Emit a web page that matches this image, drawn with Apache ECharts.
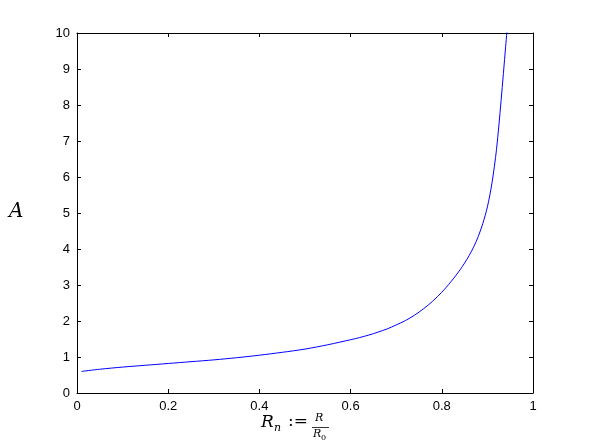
<!DOCTYPE html>
<html>
<head>
<meta charset="utf-8">
<script src="https://cdn.jsdelivr.net/npm/echarts@6/dist/echarts.min.js"></script>
<style>
  html, body { margin: 0; padding: 0; background: #fff; }
  #chart { width: 589px; height: 443px; }
</style>
</head>
<body>
<div id="chart"></div>
<script>
// values (curve runs on past the top of the axes and is clipped there)
var rn = [0.01, 0.05, 0.1, 0.15, 0.2, 0.25, 0.3, 0.35, 0.4, 0.45, 0.5, 0.55, 0.6, 0.62, 0.64, 0.66, 0.68, 0.7, 0.72, 0.74, 0.76, 0.78, 0.8,
  0.81, 0.82, 0.83, 0.84, 0.85, 0.86, 0.87, 0.88, 0.89, 0.9, 0.91, 0.92, 0.93, 0.94, 0.95]
var aVals = [0.60, 0.66, 0.72, 0.77, 0.82, 0.87, 0.92, 0.98, 1.05, 1.13, 1.22, 1.34, 1.48, 1.54, 1.61, 1.69, 1.78, 1.89, 2.01, 2.16, 2.34, 2.55, 2.8,
  2.94, 3.09, 3.25, 3.42, 3.61, 3.82, 4.06, 4.35, 4.71, 5.17, 5.83, 6.77, 8.12, 9.62, 11.12]
var xTicks = [0, 0.2, 0.4, 0.6, 0.8, 1]
var yTicks = [0, 1, 2, 3, 4, 5, 6, 7, 8, 9, 10]

var chart = echarts.init(document.getElementById('chart'))

var tickStyle = { show: true, inside: true, length: 4, lineStyle: { color: '#000', width: 1 } }
var lineStyle = { show: true, onZero: false, lineStyle: { color: '#000', width: 1 } }
var labelStyle = { color: '#000', fontSize: 13, fontFamily: 'Liberation Sans' }

chart.setOption({
  animation: false,
  grid: { left: 77, right: 56, top: 33, bottom: 50 },
  xAxis: [
    {
      type: 'value', min: xTicks[0], max: xTicks[xTicks.length - 1], interval: 0.2, position: 'bottom',
      axisLine: lineStyle, axisTick: tickStyle, splitLine: { show: false },
      axisLabel: Object.assign({ margin: 7, formatter: function(v) { return String(+v.toFixed(1)) } }, labelStyle)
    },
    {
      type: 'value', min: xTicks[0], max: xTicks[xTicks.length - 1], interval: 0.2, position: 'top',
      axisLine: lineStyle, axisTick: tickStyle, splitLine: { show: false },
      axisLabel: { show: false }
    }
  ],
  yAxis: [
    {
      type: 'value', min: yTicks[0], max: yTicks[yTicks.length - 1], interval: 1, position: 'left',
      axisLine: lineStyle, axisTick: tickStyle, splitLine: { show: false },
      axisLabel: Object.assign({ margin: 7 }, labelStyle)
    },
    {
      type: 'value', min: yTicks[0], max: yTicks[yTicks.length - 1], interval: 1, position: 'right',
      axisLine: lineStyle, axisTick: tickStyle, splitLine: { show: false },
      axisLabel: { show: false }
    }
  ],
  series: [
    {
      type: 'line',
      data: rn.map(function(x, i) { return [x, aVals[i]] }),
      smooth: 0.3,
      showSymbol: false,
      clip: true,
      lineStyle: { color: '#0000ff', width: 1 }
    }
  ],
  graphic: [
    // y axis name
    { type: 'text', left: 9, top: 202, style: { text: 'A', font: 'italic 20px "DejaVu Serif", serif', fill: '#000' } },
    // x axis name  R_n := R / R_0
    { type: 'text', left: 261, top: 414, style: { text: 'R', font: 'italic 17px "DejaVu Serif", serif', fill: '#000' } },
    { type: 'text', left: 274, top: 423, style: { text: 'n', font: 'italic 11px "DejaVu Serif", serif', fill: '#000' } },
    { type: 'text', left: 288, top: 413, style: { text: ':=', font: '17px "DejaVu Serif", serif', fill: '#000' } },
    { type: 'text', left: 315, top: 413, style: { text: 'R', font: 'italic 11px "DejaVu Serif", serif', fill: '#000' } },
    { type: 'line', shape: { x1: 312, y1: 427.5, x2: 329, y2: 427.5 }, style: { stroke: '#000', lineWidth: 0.8 } },
    { type: 'text', left: 313, top: 429, style: { text: 'R', font: 'italic 11px "DejaVu Serif", serif', fill: '#000' } },
    { type: 'text', left: 321, top: 434, style: { text: '0', font: '8px "DejaVu Serif", serif', fill: '#000' } }
  ]
})
</script>
</body>
</html>
